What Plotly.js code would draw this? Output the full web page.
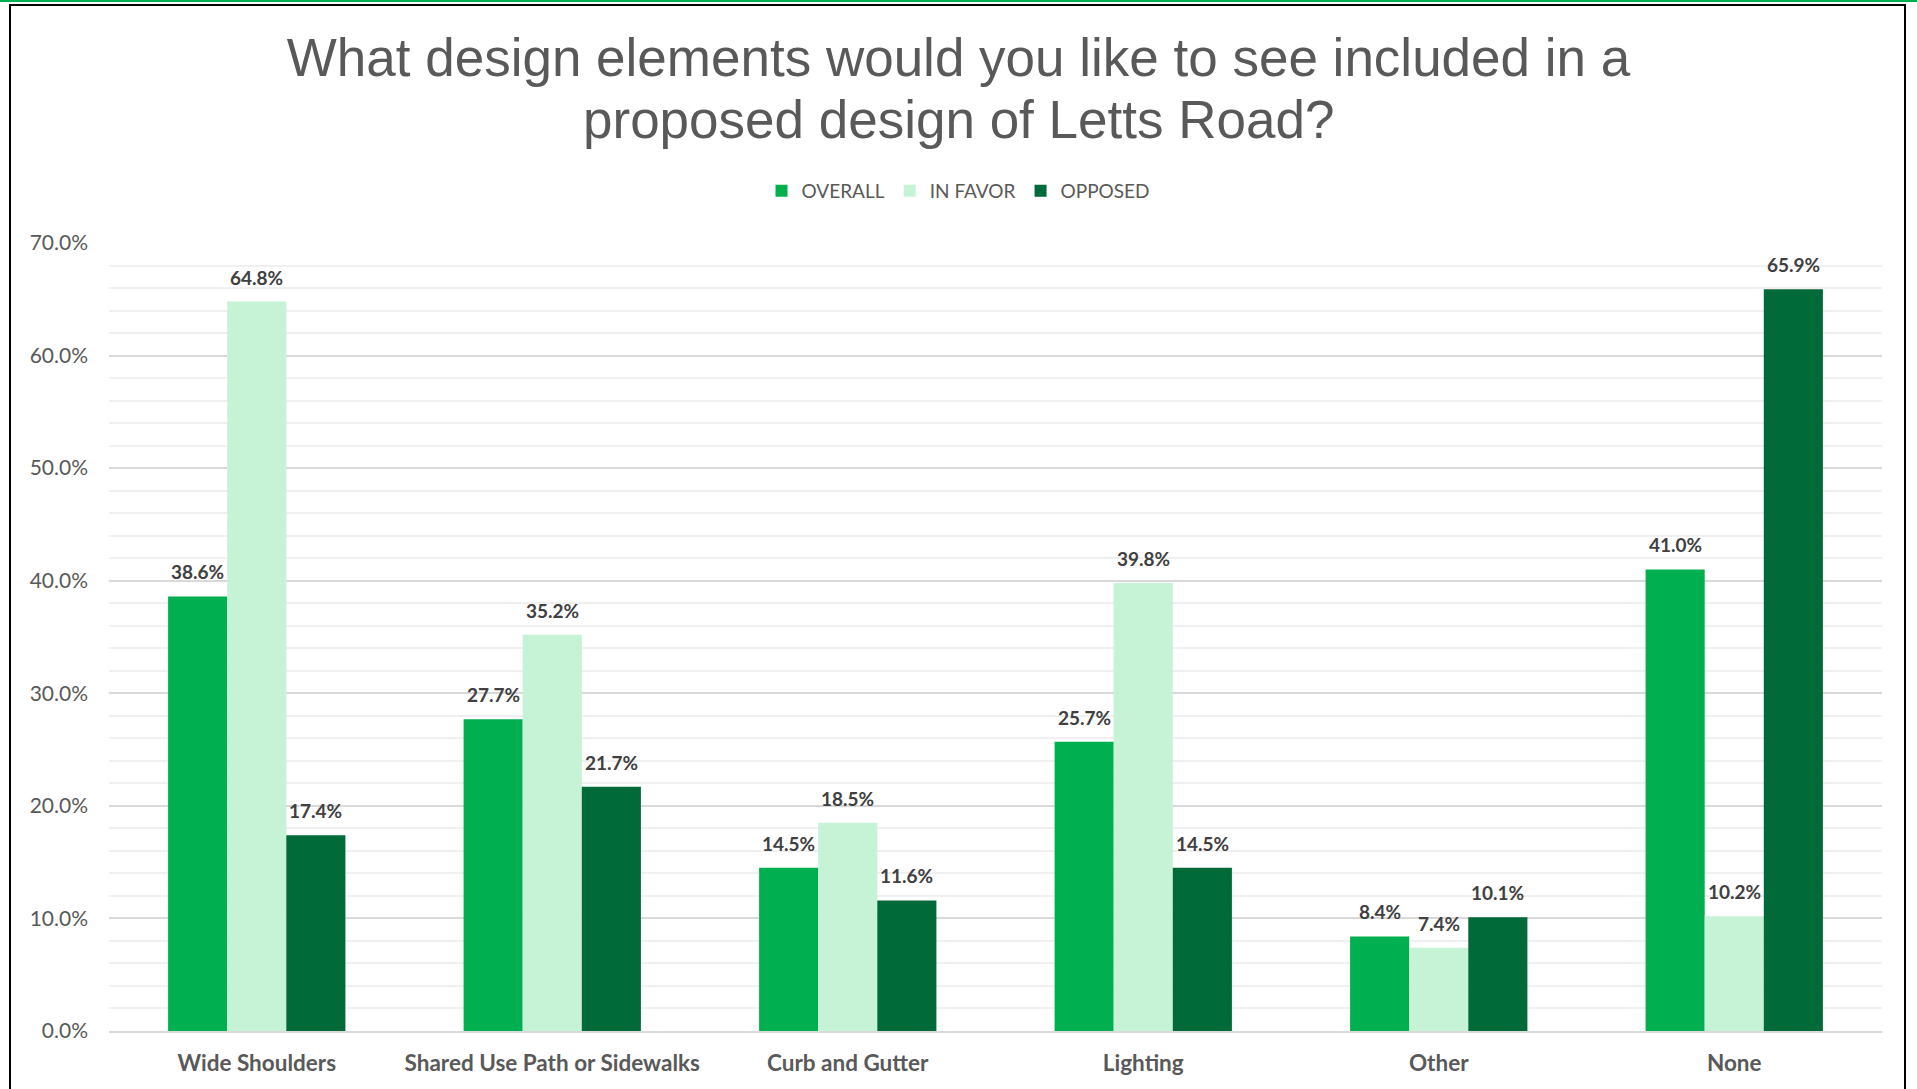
<!DOCTYPE html>
<html>
<head>
<meta charset="utf-8">
<script src="https://cdn.plot.ly/plotly-3.0.1.min.js"></script>
<style>
  html, body { margin: 0; padding: 0; background: #ffffff; overflow: hidden; }
  #topline { position: absolute; left: 0; top: 0; width: 1917px; height: 2px; background: #00b050; }
  #frame { position: absolute; left: 9px; top: 4px; width: 1897px; height: 1200px; border: 2px solid #000000; box-sizing: border-box; }
  #chart { position: absolute; left: 0; top: 0; width: 1917px; height: 1089px; }
</style>
</head>
<body>
<div id="topline"></div>
<div id="frame"></div>
<div id="chart"></div>
<script>
// ---- data ----
const categories = ["Wide Shoulders", "Shared Use Path or Sidewalks", "Curb and Gutter", "Lighting", "Other", "None"];
const seriesNames = ["OVERALL", "IN FAVOR", "OPPOSED"];
const overall = [38.6, 27.7, 14.5, 25.7, 8.4, 41.0];
const inFavor = [64.8, 35.2, 18.5, 39.8, 7.4, 10.2];
const opposed = [17.4, 21.7, 11.6, 14.5, 10.1, 65.9];
const yTicks = [0, 10, 20, 30, 40, 50, 60, 70];
const titleLines = ["What design elements would you like to see included in a", "proposed design of Letts Road?"];

// ---- styles ----
const colors = ["#00b050", "#c6f2d6", "#006a38"];
const W = 1917, H = 1089;
const margin = { l: 109, r: 35, t: 243, b: 58 };
const bargap = 0.4;
const plotW = W - margin.l - margin.r;
const plotH = H - margin.t - margin.b;
const barW = plotW / categories.length * (1 - bargap) / seriesNames.length;
const titleFont = { family: "'Liberation Sans', Arial, sans-serif", size: 53, color: "#595959" };
const title1Y = 57, title2Y = 120;   // pixel centres of the two title lines

const seriesValues = [overall, inFavor, opposed];
const traces = seriesValues.map((vals, i) => ({
  type: "bar",
  name: seriesNames[i],
  x: categories,
  y: vals,
  marker: { color: colors[i], line: { width: 0 } },
  hoverinfo: "skip"
}));

const annotations = [];
seriesValues.forEach((vals, i) => {
  vals.forEach((v, j) => {
    annotations.push({
      x: categories[j], y: v, xref: "x", yref: "y",
      text: v.toFixed(1) + "%",
      showarrow: false,
      xanchor: "center", yanchor: "bottom",
      xshift: (i - 1) * barW,
      yshift: 11,
      font: { family: "Lato, 'Open Sans', sans-serif", size: 19, color: "#404040", weight: "bold" }
    });
  });
});
// second title line, centred on the page like the first
annotations.push({
  x: (W / 2 - margin.l) / plotW, xref: "paper",
  y: (H - margin.b - title2Y) / plotH, yref: "paper",
  xanchor: "center", yanchor: "middle",
  text: titleLines[1], showarrow: false,
  font: titleFont
});

const layout = {
  width: W, height: H,
  margin: margin,
  paper_bgcolor: "rgba(0,0,0,0)",
  plot_bgcolor: "rgba(0,0,0,0)",
  barmode: "group",
  bargap: bargap,
  bargroupgap: 0,
  title: {
    text: titleLines[0],
    font: titleFont,
    x: 0.5, xanchor: "center", xref: "container",
    y: 1 - title1Y / H, yanchor: "middle", yref: "container"
  },
  showlegend: true,
  legend: {
    orientation: "h",
    x: 0.5, xanchor: "center", xref: "container",
    y: 1 - 191 / H, yanchor: "middle", yref: "container",
    font: { family: "Lato, 'Open Sans', sans-serif", size: 19, color: "#595959" },
    itemclick: false, itemdoubleclick: false,
    traceorder: "normal"
  },
  xaxis: {
    type: "category",
    showgrid: false,
    showline: true, linecolor: "#d9d9d9", linewidth: 2,
    ticks: "",
    tickfont: { family: "Lato, 'Open Sans', sans-serif", size: 22.5, color: "#595959", weight: "bold" },
    ticklabelstandoff: 11,
    fixedrange: true
  },
  yaxis: {
    range: [0, 70],
    tickvals: yTicks,
    ticktext: yTicks.map(t => t.toFixed(1) + "%"),
    showgrid: true, gridcolor: "#d9d9d9", gridwidth: 2,
    zeroline: false,
    showline: false,
    ticks: "",
    tickfont: { family: "Lato, 'Open Sans', sans-serif", size: 21, color: "#595959" },
    ticklabelstandoff: 20,
    minor: { dtick: 2, showgrid: true, gridcolor: "#f0f0f0", gridwidth: 2 },
    fixedrange: true
  },
  annotations: annotations
};

Plotly.newPlot("chart", traces, layout, { displayModeBar: false, staticPlot: true });
</script>
</body>
</html>
